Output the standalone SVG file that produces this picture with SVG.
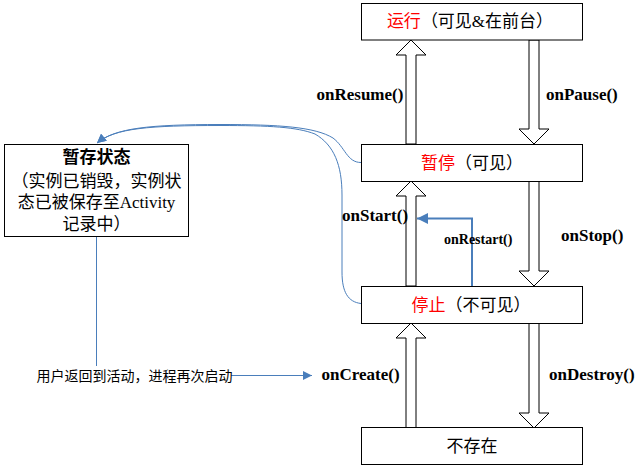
<svg xmlns="http://www.w3.org/2000/svg" width="639" height="468" viewBox="0 0 639 468">
<style>
.box{fill:#fff;stroke:#000;stroke-width:1}
.cjk{font-family:"Liberation Serif","Noto Sans CJK SC",serif;font-size:17px;fill:#000}
.red{fill:#ff0000}
.lbl{font-family:"Liberation Serif",serif;font-weight:bold;font-size:17px;fill:#000}
.blk{fill:#fff;stroke:#000;stroke-width:1;stroke-linejoin:miter}
.blue{fill:none;stroke:#4a7ebb;stroke-width:1}
.blue2{fill:none;stroke:#4a7ebb;stroke-width:2}
</style>
<defs>
<marker id="ah" viewBox="0 0 10 10" refX="10" refY="5" markerWidth="10" markerHeight="9" markerUnits="userSpaceOnUse" orient="auto">
<path d="M0,0 L10,5 L0,10 z" fill="#4a7ebb"/>
</marker>
<marker id="ah2" viewBox="0 0 10 10" refX="10" refY="5" markerWidth="11" markerHeight="11" markerUnits="userSpaceOnUse" orient="auto">
<path d="M0,0 L10,5 L0,10 z" fill="#4a7ebb"/>
</marker>
</defs>

<g id="connectors">
<polygon class="blk" points="411,40 426,55 416,55 416,144 406,144 406,55 396,55"/>
<polygon class="blk" points="534,144 549,129 539,129 539,40 529,40 529,129 519,129"/>
<polygon class="blk" points="411,181 426,196 416,196 416,286 406,286 406,196 396,196"/>
<polygon class="blk" points="534,286 549,271 539,271 539,181 529,181 529,271 519,271"/>
<polygon class="blk" points="411,323 426,338 416,338 416,428 406,428 406,338 396,338"/>
<polygon class="blk" points="534,428 549,413 539,413 539,323 529,323 529,413 519,413"/>
<path class="blue2" d="M472,286 L472,218.5 L417,218.5" marker-end="url(#ah2)"/>
<path class="blue" d="M361,162.5 C347,162.5 345,147 333,138 C315,127 280,124.5 220,124.5 C150,124.5 115,128 97,143" marker-end="url(#ah)"/>
<path class="blue" d="M361,303.5 C348,302 342,292 342,272 L342,195 C342,165 334,145 315,134 C297,127 270,125.5 220,125.5 C150,125.5 115,128 97,143" marker-end="url(#ah)"/>
<path class="blue" d="M96.5,237 L96.5,366"/>
<path class="blue" d="M231,375.5 L312,375.5" marker-end="url(#ah)"/>
<text class="lbl" x="316.5" y="99.5">onResume()</text>
<text class="lbl" x="546" y="99.5">onPause()</text>
<text class="lbl" x="342" y="221">onStart()</text>
<text class="lbl" x="444" y="243.5" style="font-size:14px">onRestart()</text>
<text class="lbl" x="561" y="240.5">onStop()</text>
<text class="lbl" x="321.5" y="380">onCreate()</text>
<text class="lbl" x="549" y="380">onDestroy()</text>
<text x="36.5" y="380.5" style="font-family:'Noto Sans CJK SC',sans-serif;font-size:14px;fill:#000">用户返回到活动，进程再次启动</text>
</g>

<g id="running">
<rect class="box" x="361.5" y="3.5" width="221" height="36.5"/>
<text class="cjk" x="470" y="27" text-anchor="middle"><tspan class="red">运行</tspan>（可见&amp;在前台）</text>
</g>
<g id="paused">
<rect class="box" x="361.5" y="144.5" width="221" height="37"/>
<text class="cjk" x="472" y="169" text-anchor="middle"><tspan class="red">暂停</tspan>（可见）</text>
</g>
<g id="stopped">
<rect class="box" x="361.5" y="286.5" width="221" height="37"/>
<text class="cjk" x="471" y="311" text-anchor="middle"><tspan class="red">停止</tspan>（不可见）</text>
</g>
<g id="nonexistent">
<rect class="box" x="361.5" y="427.5" width="221" height="37"/>
<text class="cjk" x="472" y="451.5" text-anchor="middle">不存在</text>
</g>
<g id="saved-state">
<rect class="box" x="4.5" y="144.5" width="184" height="92"/>
<text class="cjk" x="96.5" y="162.5" text-anchor="middle" style="font-weight:bold">暂存状态</text>
<text class="cjk" x="96.5" y="186.5" text-anchor="middle">（实例已销毁，实例状</text>
<text class="cjk" x="96.5" y="208" text-anchor="middle">态已被保存至Activity</text>
<text class="cjk" x="96.5" y="229.5" text-anchor="middle">记录中）</text>
</g>
</svg>
